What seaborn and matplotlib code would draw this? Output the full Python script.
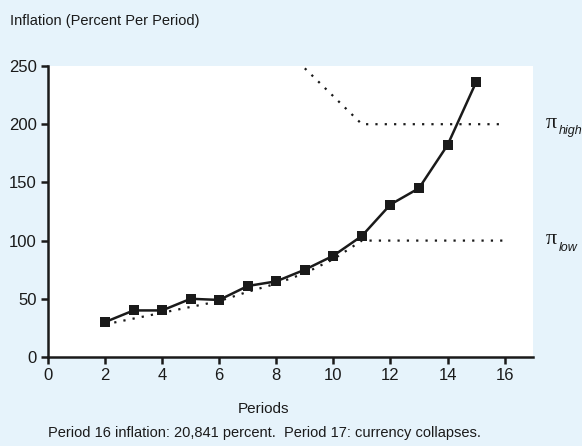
import numpy as np
import pandas as pd
import matplotlib
matplotlib.use("Agg")
import matplotlib.pyplot as plt
import seaborn as sns

# observed inflation by period
periods = [2, 3, 4, 5, 6, 7, 8, 9, 10, 11, 12, 13, 14, 15]
inflation = [30, 40, 40, 50, 49, 61, 65, 75, 87, 104, 131, 145, 182, 236]

# lower dotted path (pi_low)
low_x = [2, 3, 4, 5, 6, 7, 8, 9, 10, 11, 16]
low_y = [28, 33, 38, 43, 48, 56, 63, 72, 84, 100, 100]

# upper dotted path (pi_high)
high_x = [9, 11, 16]
high_y = [248, 200, 200]

xticks = [0, 2, 4, 6, 8, 10, 12, 14, 16]
yticks = [0, 50, 100, 150, 200, 250]

bg = "#E6F3FB"
ink = "#1a1a1a"

sns.set_style("ticks")
plt.rcParams["font.family"] = ["Liberation Sans", "DejaVu Sans"]

fig = plt.figure(figsize=(5.82, 4.46), dpi=100, facecolor=bg)
ax = fig.add_axes([0.0825, 0.1996, 0.8335, 0.6524])
ax.set_facecolor("white")

df = pd.DataFrame({"period": periods, "inflation": inflation})
sns.lineplot(data=df, x="period", y="inflation", ax=ax, color=ink,
             lw=1.8, marker="s", markersize=7, markeredgewidth=0, zorder=3)

ax.plot(low_x, low_y, color=ink, lw=1.6, linestyle=(0, (1, 3.2)), zorder=2)
ax.plot(high_x, high_y, color=ink, lw=1.6, linestyle=(0, (1, 3.2)), zorder=2)

ax.set_xlim(0, 17)
ax.set_ylim(0, 250)
ax.set_xticks(xticks)
ax.set_yticks(yticks)
ax.tick_params(axis="both", direction="out", length=5, width=1.8, labelsize=12,
               colors=ink, pad=3)
for s in ["top", "right"]:
    ax.spines[s].set_visible(False)
for s in ["left", "bottom"]:
    ax.spines[s].set_linewidth(1.8)
    ax.spines[s].set_color(ink)

ax.set_xlabel("")
ax.set_ylabel("")

fig.text(0.017, 0.952, "Inflation (Percent Per Period)", fontsize=10.5,
         color=ink, va="center", ha="left")
fig.text(0.452, 0.083, "Periods", fontsize=11, color=ink, ha="center", va="center")
fig.text(0.455, 0.013, "Period 16 inflation: 20,841 percent.  Period 17: currency collapses.",
         fontsize=10.5, color=ink, ha="center", va="bottom")

# pi labels: upright pi with italic subscript
for lab, ypos in [("high", 0.724), ("low", 0.463)]:
    fig.text(0.937, ypos, "π", family="Liberation Serif", fontsize=16,
             va="center", ha="left", color=ink)
    fig.text(0.960, ypos - 0.018, lab, fontsize=9, style="italic",
             va="center", ha="left", color=ink)

fig.savefig("out.png", dpi=100, facecolor=bg)
